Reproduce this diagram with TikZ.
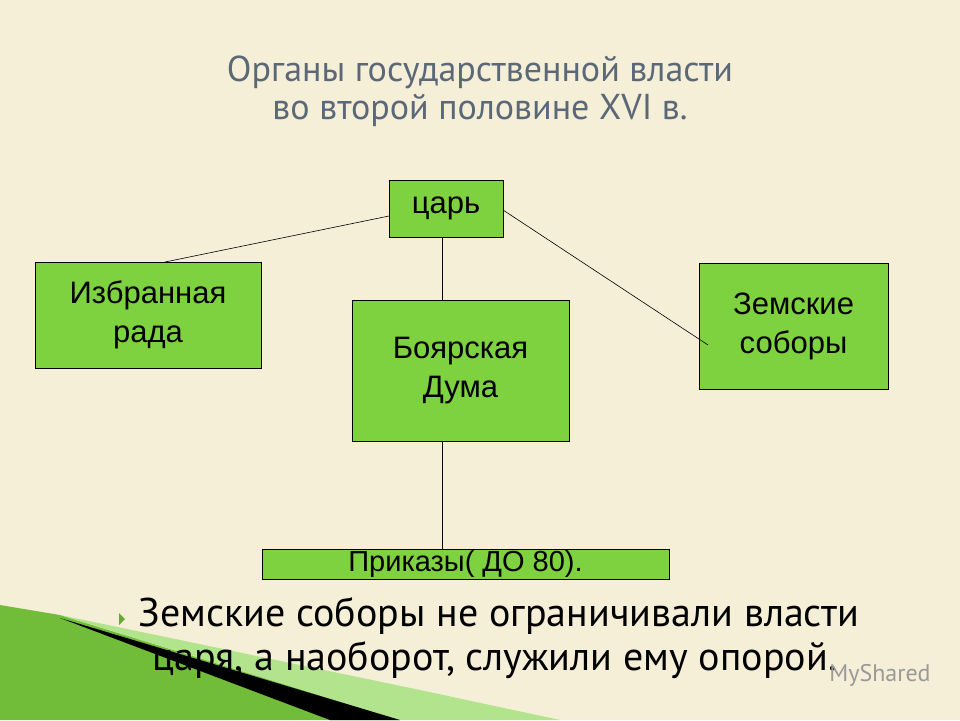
\documentclass[tikz,border=0pt]{standalone}
\usepackage{fontspec}
\setmainfont{Liberation Sans}
\newfontfamily\ptsans{PT Sans}
\begin{document}
\begin{tikzpicture}[x=1pt,y=-1pt,
  bx/.style={draw=black,fill=boxgreen,inner sep=0pt,font=\fontsize{31}{39}\selectfont,align=center},
  ln/.style={draw=black,line width=0.6pt}]
\definecolor{bg}{HTML}{F5EFD8}
\definecolor{boxgreen}{HTML}{7ED23F}
\definecolor{titlec}{HTML}{5B6878}
\fill[bg] (0,0) rectangle (960,720);
\useasboundingbox (0,0) rectangle (960,720);
% decoration
\fill[boxgreen!90!black] (0,605) -- (60,615) -- (400,720) -- (0,720) -- cycle;
\fill[boxgreen!60!white] (60,615) -- (420,690) -- (560,720) -- (400,720) -- cycle;
\fill[black] (60,618) -- (400,720) -- (330,720) -- cycle;
% title
\node[font=\ptsans\fontsize{36}{38}\selectfont,text=titlec,align=center] at (480,91) {Органы государственной власти\\во второй половине XVI в.};
% boxes
\node[bx,minimum width=114,minimum height=57] (tsar) at (446,208.5) {царь};
\node[bx,minimum width=226,minimum height=106] (rada) at (148,315) {Избранная\\рада};
\node[bx,minimum width=217,minimum height=141] (duma) at (460.5,370.5) {Боярская\\Дума};
\node[bx,minimum width=189,minimum height=126] (zem) at (793.5,326) {Земские\\соборы};
\node[bx,minimum width=407,minimum height=30,font=\fontsize{29}{30}\selectfont] (prik) at (465.5,564) {Приказы( ДО 80).};
\coordinate (zemend) at (708,345);
\coordinate (radaend) at (165,262);
\draw[ln] (389,216) -- (radaend);
\draw[ln] (tsar.south -| 442,0) -- (duma.north -| 442,0);
\draw[ln] (503,210) -- (zemend);
\draw[ln] (duma.south -| 442,0) -- (prik.north -| 442,0);
% bullet text
\fill[boxgreen!80!black] (119,613) -- (125,619) -- (119,625) -- cycle;
\node[anchor=west,font=\ptsans\fontsize{40}{44}\selectfont,align=left] at (135,638) {Земские соборы не ограничивали власти\\\hspace*{14pt}царя, а наоборот, служили ему опорой.};
\node[font=\ptsans\fontsize{24}{28}\selectfont,text=black!40] at (880,675) {MyShared};
\end{tikzpicture}
\end{document}
